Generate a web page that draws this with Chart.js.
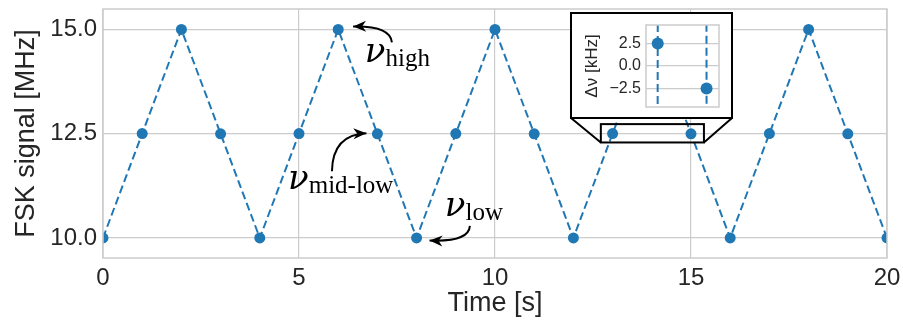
<!DOCTYPE html>
<html>
<head>
<meta charset="utf-8">
<script src="https://cdn.jsdelivr.net/npm/chart.js@4.4.1/dist/chart.umd.min.js"></script>
<style>
  html, body { margin: 0; padding: 0; background: #fff; }
  #wrap { position: relative; width: 903px; height: 324px; }
  #main { position: absolute; left: 0; top: 0; }
  #inset { position: absolute; }
</style>
</head>
<body>
<div id="wrap">
  <canvas id="main" width="903" height="324"></canvas>
  <canvas id="inset" width="163" height="107"></canvas>
</div>
<script>
// FSK staircase: time [s] and frequency [MHz]
const times = [0, 1, 2, 3, 4, 5, 6, 7, 8, 9, 10, 11, 12, 13, 14, 15, 16, 17, 18, 19, 20];
const freqs = [10, 12.5025, 15, 12.4975, 10, 12.5025, 15, 12.4975, 10, 12.5025, 15,
               12.4975, 10, 12.5025, 15, 12.4975, 10, 12.5025, 15, 12.4975, 10];
const xTicks = [0, 5, 10, 15, 20];
const yTicks = [10, 12.5, 15];
const insetTicks = [2.5, 0, -2.5];   // kHz offset from 12.5 MHz
const midFreq = 12.5;

const blue = '#1f77b4';
const gridCol = '#cccccc';
const textCol = '#262626';
const sans = 'Liberation Sans';

// zoomed region (data coords) and where the inset sits on the page
const zoomX = [12.7, 15.33];
const zoomY = [12.29, 12.73];
const insetBox = { left: 570, top: 12, width: 163, height: 107 };

// label anchor + curved arrow (start, control, end), all in data coords
const notes = [
  { sub: 'high',    tx: 6.68, ty: 14.23, from: [7.37, 14.69], ctrl: [7.33, 15.09], to: [6.38, 15.07] },
  { sub: 'mid-low', tx: 4.72, ty: 11.17, from: [5.84, 11.60], ctrl: [5.86, 12.48], to: [6.72, 12.51] },
  { sub: 'low',     tx: 8.72, ty: 10.53, from: [9.36, 10.29], ctrl: [9.33, 9.90],  to: [8.33, 9.94] }
];

function arrow(ctx, a, c, b) {
  ctx.beginPath();
  ctx.moveTo(a[0], a[1]);
  ctx.quadraticCurveTo(c[0], c[1], b[0], b[1]);
  ctx.stroke();
  const ang = Math.atan2(b[1] - c[1], b[0] - c[0]);
  const L = 13, W = 5.5;
  ctx.save();
  ctx.translate(b[0], b[1]);
  ctx.rotate(ang);
  ctx.beginPath();
  ctx.moveTo(0, 0);
  ctx.lineTo(-L, -W);
  ctx.lineTo(-L * 0.7, 0);
  ctx.lineTo(-L, W);
  ctx.closePath();
  ctx.fill();
  ctx.restore();
}

const mainPlugin = {
  id: 'mainDeco',
  beforeDraw(chart) {
    const ctx = chart.ctx;
    ctx.save();
    ctx.fillStyle = '#fff';
    ctx.fillRect(0, 0, chart.width, chart.height);
    ctx.restore();
  },
  afterDatasetsDraw(chart) {
    const ctx = chart.ctx, a = chart.chartArea;
    const xs = chart.scales.x, ys = chart.scales.y;
    ctx.save();
    // axes frame
    ctx.strokeStyle = gridCol;
    ctx.lineWidth = 1.5;
    ctx.strokeRect(a.left, a.top, a.right - a.left, a.bottom - a.top);

    // zoom rectangle + connectors to the inset frame
    const x0 = xs.getPixelForValue(zoomX[0]), x1 = xs.getPixelForValue(zoomX[1]);
    const y0 = ys.getPixelForValue(zoomY[1]), y1 = ys.getPixelForValue(zoomY[0]);
    ctx.strokeStyle = '#000';
    ctx.lineWidth = 2;
    ctx.strokeRect(x0, y0, x1 - x0, y1 - y0);
    const fb = insetBox.top + insetBox.height - 1;
    ctx.beginPath();
    ctx.moveTo(insetBox.left + 1, fb);
    ctx.lineTo(x0, y1);
    ctx.moveTo(insetBox.left + insetBox.width - 1, fb);
    ctx.lineTo(x1, y1);
    ctx.stroke();

    // annotations
    ctx.fillStyle = '#000';
    ctx.strokeStyle = '#000';
    ctx.lineWidth = 2;
    ctx.textBaseline = 'alphabetic';
    ctx.textAlign = 'left';
    notes.forEach(n => {
      const px = p => [xs.getPixelForValue(p[0]), ys.getPixelForValue(p[1])];
      arrow(ctx, px(n.from), px(n.ctrl), px(n.to));
      const tx = xs.getPixelForValue(n.tx), ty = ys.getPixelForValue(n.ty);
      ctx.font = 'italic 34px "DejaVu Serif"';
      ctx.fillText('ν', tx, ty);
      const w = ctx.measureText('ν').width;
      ctx.font = '25px "Liberation Serif"';
      ctx.fillText(n.sub, tx + w, ty + 4);
    });
    ctx.restore();
  }
};

new Chart(document.getElementById('main'), {
  type: 'line',
  data: {
    datasets: [{
      data: times.map((t, i) => ({ x: t, y: freqs[i] })),
      borderColor: blue,
      backgroundColor: blue,
      borderWidth: 2,
      borderDash: [8, 4],
      pointRadius: 5.5,
      pointBackgroundColor: blue,
      pointBorderWidth: 0,
      clip: 0
    }]
  },
  options: {
    responsive: false,
    animation: false,
    devicePixelRatio: 1,
    layout: { padding: { top: 9, right: 16, left: 0, bottom: 0 } },
    plugins: { legend: { display: false }, tooltip: { enabled: false } },
    scales: {
      x: {
        type: 'linear', min: 0, max: 20,
        afterBuildTicks: s => { s.ticks = xTicks.map(v => ({ value: v })); },
        afterFit: s => { s.height = 66; s.paddingLeft = 0; s.paddingRight = 0; },
        grid: { color: gridCol, lineWidth: 1.2, drawTicks: false },
        border: { display: false },
        ticks: { font: { family: sans, size: 24 }, color: textCol, padding: 6, maxRotation: 0 },
        title: { display: true, text: 'Time [s]', font: { family: sans, size: 27 }, color: textCol, padding: { top: 0, bottom: 4 } }
      },
      y: {
        min: 9.52, max: 15.49,
        afterBuildTicks: s => { s.ticks = yTicks.map(v => ({ value: v })); },
        afterFit: s => { s.width = 103; s.paddingTop = 0; s.paddingBottom = 0; },
        grid: { color: gridCol, lineWidth: 1.2, drawTicks: false },
        border: { display: false },
        ticks: { font: { family: sans, size: 24 }, color: textCol, padding: 6, callback: v => v.toFixed(1) },
        title: { display: true, text: 'FSK signal [MHz]', font: { family: sans, size: 27 }, color: textCol, padding: { top: 10, bottom: 0 } }
      }
    }
  },
  plugins: [mainPlugin]
});

// inset: deviation from 12.5 MHz in kHz
const insetEl = document.getElementById('inset');
insetEl.style.left = insetBox.left + 'px';
insetEl.style.top = insetBox.top + 'px';

const insetPlugin = {
  id: 'insetDeco',
  beforeDraw(chart) {
    const ctx = chart.ctx;
    ctx.save();
    ctx.fillStyle = '#fff';
    ctx.fillRect(0, 0, chart.width, chart.height);
    ctx.restore();
  },
  afterDraw(chart) {
    const ctx = chart.ctx, a = chart.chartArea;
    ctx.save();
    ctx.strokeStyle = gridCol;
    ctx.lineWidth = 1.5;
    ctx.strokeRect(a.left, a.top, a.right - a.left, a.bottom - a.top);
    ctx.strokeStyle = '#000';
    ctx.lineWidth = 2;
    ctx.strokeRect(1, 1, chart.width - 2, chart.height - 2);
    ctx.restore();
  }
};

new Chart(insetEl, {
  type: 'line',
  data: {
    datasets: [{
      data: times.map((t, i) => ({ x: t, y: (freqs[i] - midFreq) * 1000 })),
      borderColor: blue,
      backgroundColor: blue,
      borderWidth: 2,
      borderDash: [8, 4],
      pointRadius: 6,
      pointBackgroundColor: blue,
      pointBorderWidth: 0,
      clip: 0
    }]
  },
  options: {
    responsive: false,
    animation: false,
    devicePixelRatio: 1,
    layout: { padding: { top: 13, right: 14, left: 0, bottom: 12 } },
    plugins: { legend: { display: false }, tooltip: { enabled: false } },
    scales: {
      x: { type: 'linear', min: 12.52, max: 15.51, display: false },
      y: {
        min: -4.56, max: 4.56,
        afterBuildTicks: s => { s.ticks = insetTicks.map(v => ({ value: v })); },
        afterFit: s => { s.width = 76; s.paddingTop = 0; s.paddingBottom = 0; },
        grid: { color: gridCol, lineWidth: 1.2, drawTicks: false },
        border: { display: false },
        ticks: {
          font: { family: sans, size: 16 }, color: textCol, padding: 5,
          callback: v => (v < 0 ? '\u2212' + Math.abs(v).toFixed(1) : v.toFixed(1))
        },
        title: { display: true, text: 'Δν [kHz]', font: { family: sans, size: 17 }, color: textCol, padding: { top: 12, bottom: 0 } }
      }
    }
  },
  plugins: [insetPlugin]
});
</script>
</body>
</html>
